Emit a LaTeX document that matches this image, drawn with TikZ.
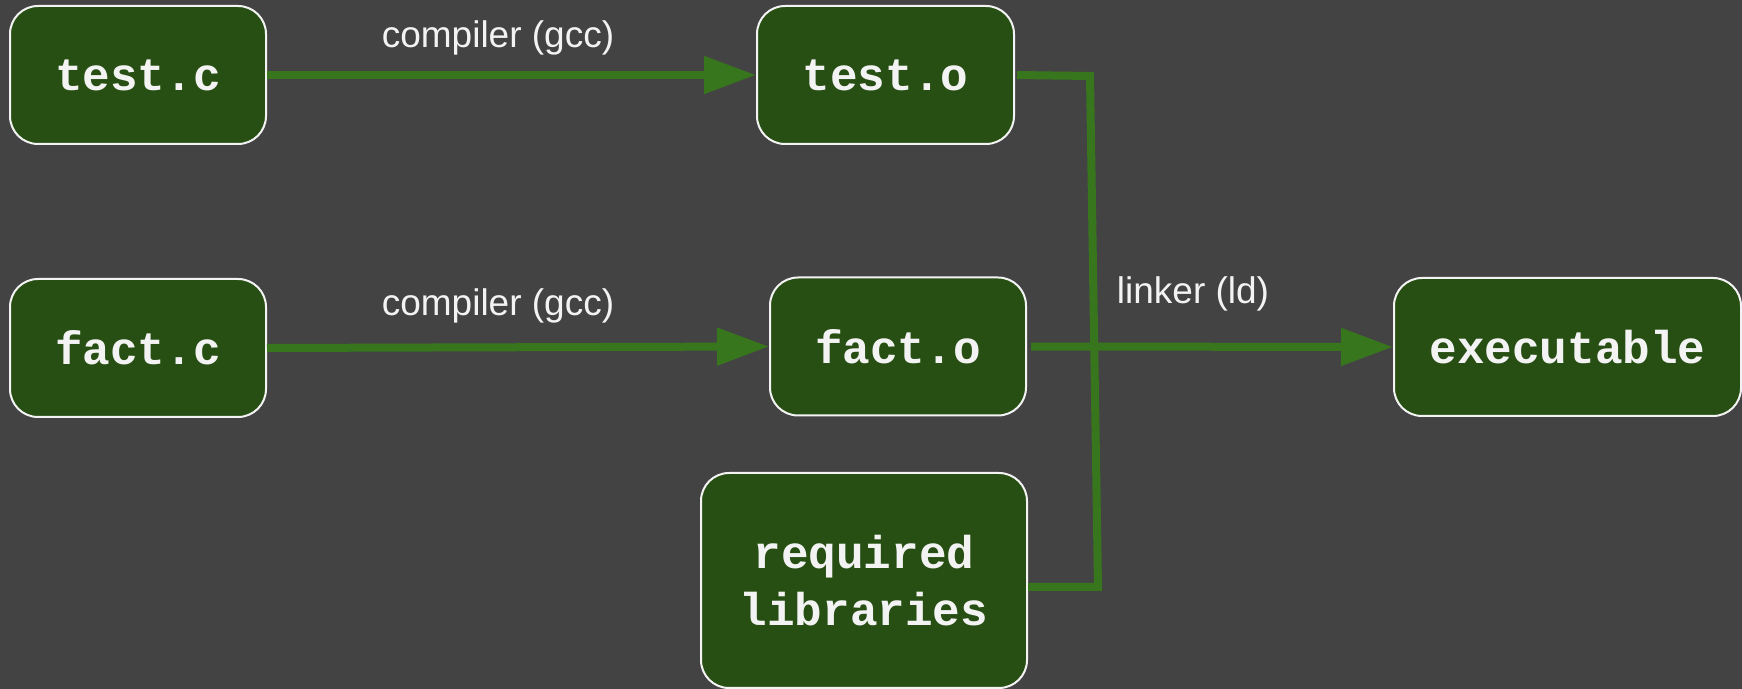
\documentclass[tikz,border=0pt]{standalone}
\usepackage{fontspec}
\setmainfont{Liberation Sans}
\newfontfamily\codefont{Liberation Mono}
\usetikzlibrary{arrows.meta}
\definecolor{bg}{HTML}{434343}
\definecolor{boxfill}{HTML}{274E13}
\definecolor{linkgreen}{HTML}{38761D}
\definecolor{txt}{HTML}{F3F3F3}
\begin{document}
\begin{tikzpicture}[x=0.5pt,y=-0.5pt,
  filebox/.style={draw=txt, line width=1pt, fill=boxfill, rounded corners=14pt,
    text=txt, font=\codefont\bfseries\fontsize{23}{28.5}\selectfont, align=center,
    inner sep=0pt, minimum height=69pt},
  conn/.style={draw=linkgreen, line width=4pt},
  arr/.style={conn, -{Triangle[length=26pt,width=18pt]}},
  lbl/.style={text=txt, font=\fontsize{18.5}{22}\selectfont, anchor=base, inner sep=0pt}]
\fill[bg] (0,0) rectangle (1742,689);
\useasboundingbox (0,0) rectangle (1742,689);
\node[filebox, minimum width=128pt] (testc) at (138,75) {test.c};
\node[filebox, minimum width=128.5pt] (testo) at (885.5,75) {test.o};
\node[filebox, minimum width=128pt] (factc) at (138,348) {fact.c};
\node[filebox, minimum width=128pt] (facto) at (898,346.5) {fact.o};
\node[filebox, minimum width=163pt, minimum height=107.5pt] (reqlib) at (864,580.5) {required\\libraries};
\node[filebox, minimum width=173.5pt] (exe) at (1567.5,347) {executable};
\node[lbl] (lab1) at (498,48) {compiler (gcc)};
\node[lbl] (lab2) at (498,316) {compiler (gcc)};
\node[lbl] (lab3) at (1193,304) {linker (ld)};
\coordinate (j1) at (1090,76);
\coordinate (j2) at (1098,587);
\draw[arr] (testc.east) -- (testo.west);
\draw[arr] (factc.east) -- (facto.west);
\draw[arr, shorten <=2pt] (facto.east) -- (exe.west);
\draw[conn, shorten <=1pt] (testo.east) -- (j1) -- (j2) -- (j2 -| reqlib.east);
\end{tikzpicture}
\end{document}
